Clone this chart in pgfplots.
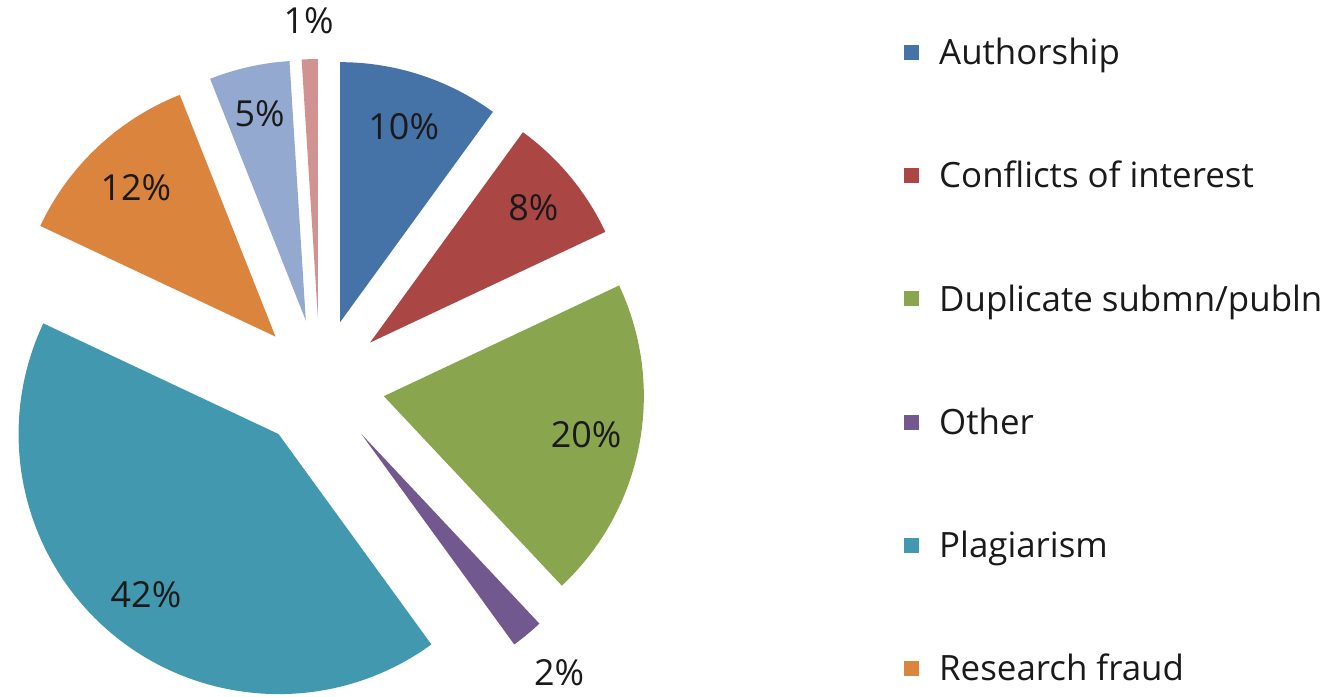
\documentclass[border=0pt]{standalone}
\usepackage{fontspec}
\setmainfont{Open Sans}
\usepackage{pgfplots}
\usepackage{pgfplotstable}
\pgfplotsset{compat=1.18}
\definecolor{cA}{HTML}{4572A7}
\definecolor{cB}{HTML}{AA4643}
\definecolor{cC}{HTML}{89A54E}
\definecolor{cD}{HTML}{71588F}
\definecolor{cE}{HTML}{4198AF}
\definecolor{cF}{HTML}{DB843D}
\definecolor{cG}{HTML}{93A9CF}
\definecolor{cH}{HTML}{D19392}
\definecolor{txt}{HTML}{1A1A1A}

% name, share (%), colour, label distance from slice tip, in legend
\pgfplotstableread[col sep=comma]{
name,value,col,lr,leg
Authorship,10,cA,206,1
Conflicts of interest,8,cB,212,1
Duplicate submn/publn,20,cC,206,1
Other,2,cD,310,1
Plagiarism,42,cE,208,1
Research fraud,12,cF,204,1
Series 7,5,cG,212,0
Series 8,1,cH,298,0
}\piedata

\begin{document}
\begin{tikzpicture}
\begin{axis}[
  width=1338bp, height=697bp, scale only axis,
  xmin=0, xmax=1338, ymin=0, ymax=697,
  hide axis, clip=false,
  legend cell align=left,
  legend style={at={(axis cs:904,657.5)}, anchor=north west, draw=none, fill=none,
    inner sep=0pt, row sep=90.2bp, column sep=20bp,
    font=\fontsize{35}{40}\selectfont\color{txt},
    nodes={inner sep=0pt, text height=25bp, text depth=8bp}},
  legend image code/.code={\fill[#1] (0bp,-3.75bp) rectangle (15bp,11.25bp);},
]
\pgfplotstablegetrowsof{\piedata}
\pgfmathtruncatemacro\N{\pgfplotsretval-1}
\def\cx{320}\def\cy{313}\def\dd{65}\def\rr{260}
\def\cum{0}
\pgfplotsforeachungrouped \i in {0,...,\N}{
  \pgfplotstablegetelem{\i}{value}\of\piedata \let\v\pgfplotsretval
  \pgfplotstablegetelem{\i}{col}\of\piedata \let\c\pgfplotsretval
  \pgfplotstablegetelem{\i}{lr}\of\piedata \let\lr\pgfplotsretval
  \pgfplotstablegetelem{\i}{leg}\of\piedata \let\lg\pgfplotsretval
  \pgfplotstablegetelem{\i}{name}\of\piedata \let\nm\pgfplotsretval
  \pgfmathsetmacro\a{\cum*3.6}
  \pgfmathsetmacro\b{(\cum+\v)*3.6}
  \pgfmathsetmacro\m{(\a+\b)/2}
  \pgfmathsetmacro\ax{\cx+\dd*sin(\m)}
  \pgfmathsetmacro\ay{\cy+\dd*cos(\m)}
  \pgfmathsetmacro\sa{90-\a}
  \pgfmathsetmacro\ea{90-\b}
  \pgfmathsetmacro\lx{\ax+\lr*sin(\m)}
  \pgfmathsetmacro\ly{\ay+\lr*cos(\m)}
  \edef\temp{%
    \noexpand\fill[\c] (axis cs:\ax,\ay) -- ++(\sa:\rr bp) arc[start angle=\sa, end angle=\ea, radius=\rr bp] -- cycle;
    \noexpand\node[font=\noexpand\fontsize{36}{40}\noexpand\selectfont, text=txt] at (axis cs:\lx,\ly) {\v\noexpand\%};
  }\temp
  \ifnum\lg=1
    \edef\temp{\noexpand\addlegendimage{fill=\c, draw=none}\noexpand\addlegendentry{\nm}}\temp
  \fi
  \pgfmathsetmacro\cum{\cum+\v}
}
\end{axis}
\pgfresetboundingbox
\path (0,0) rectangle (1338bp,697bp);
\end{tikzpicture}
\end{document}
